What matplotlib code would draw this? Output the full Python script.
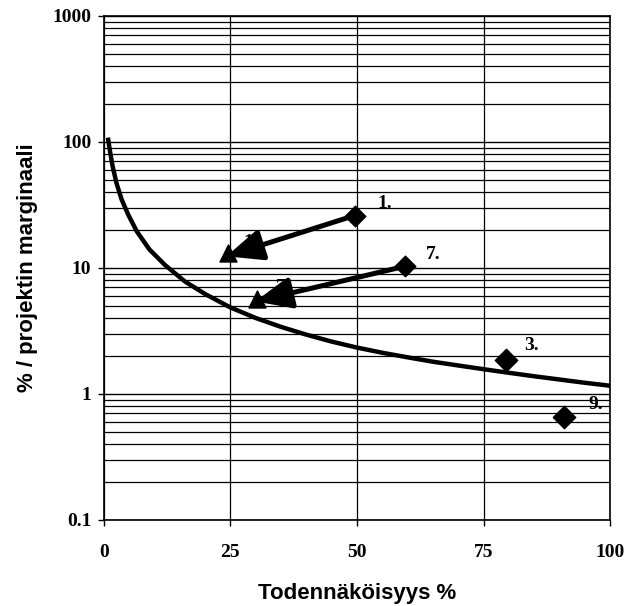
import numpy as np
import matplotlib.pyplot as plt
from matplotlib.ticker import FixedLocator, NullFormatter

# Break-even curve
curve_x = [0.8, 1.2, 1.7, 2.5, 3.5, 4.8, 6.5, 9, 12, 16, 20, 25, 30, 35, 40, 45, 50,
           55, 60, 65, 70, 75, 80, 85, 90, 95, 100]
curve_y = [108, 85, 65, 47, 35, 26.5, 19.5, 14, 10.6, 7.8, 6.2, 4.85, 4.0, 3.4, 2.95, 2.6, 2.33,
           2.12, 1.95, 1.8, 1.68, 1.57, 1.47, 1.38, 1.3, 1.225, 1.16]

# Projects: start (diamond) -> end (triangle)
moved_names = ["1", "7"]
moved_start_x = [49.5, 59.5]
moved_start_y = [26, 10.3]
moved_end_x = [24.5, 30.2]
moved_end_y = [13, 5.7]

# Projects that stay (diamonds only)
fixed_names = ["3", "9"]
fixed_x = [79.5, 90.8]
fixed_y = [1.85, 0.66]

x_ticks = [0, 25, 50, 75, 100]
y_ticks = [0.1, 1, 10, 100, 1000]
y_tick_labels = ["0.1", "1", "10", "100", "1000"]

fig = plt.figure(figsize=(6.37, 6.06), dpi=100)
ax = fig.add_axes([0.163, 0.142, 0.795, 0.832])

ax.set_yscale("log")
ax.set_xlim(0, 100)
ax.set_ylim(0.1, 1000)

# grid: every 1..9 per decade horizontally, every 25 vertically
minor = [m * 10.0 ** e for e in range(-1, 3) for m in range(2, 10)]
ax.yaxis.set_minor_locator(FixedLocator(minor))
ax.yaxis.set_minor_formatter(NullFormatter())
ax.set_yticks(y_ticks)
ax.set_yticklabels(y_tick_labels)
ax.set_xticks(x_ticks)
ax.grid(True, which="major", axis="y", color="black", lw=1.0)
ax.grid(True, which="minor", axis="y", color="black", lw=0.9)
ax.grid(True, which="major", axis="x", color="black", lw=0.9)
ax.tick_params(axis="y", which="minor", length=0)
ax.tick_params(axis="both", which="major", length=4, width=1, direction="out",
               labelsize=14, pad=5)
for lab in ax.get_xticklabels() + ax.get_yticklabels():
    lab.set_family("Liberation Serif")
    lab.set_fontweight("bold")
ax.tick_params(axis="x", pad=13)

for s in ax.spines.values():
    s.set_color("black")
    s.set_linewidth(1.2)

ax.plot(curve_x, curve_y, color="black", lw=3.2, solid_capstyle="butt",
        solid_joinstyle="round", zorder=3)

ax.scatter(moved_end_x, moved_end_y, marker="^", s=150, color="black", zorder=4)
for i in range(len(moved_names)):
    ax.annotate("", xy=(moved_end_x[i] - 0.3, moved_end_y[i] * 0.95),
                xytext=(moved_start_x[i], moved_start_y[i]),
                arrowprops=dict(arrowstyle="-|>,head_length=2.2,head_width=0.95",
                                mutation_scale=10, lw=3.6, color="black",
                                shrinkA=0, shrinkB=0),
                zorder=5)
ax.scatter(moved_start_x, moved_start_y, marker="D", s=110, color="black", zorder=5)
ax.scatter(fixed_x, fixed_y, marker="D", s=130, color="black", zorder=5)

txt = dict(family="Liberation Serif", fontweight="bold", fontsize=14)
ax.text(moved_start_x[0] + 4.5, moved_start_y[0] * 1.15, moved_names[0] + ".", zorder=6, **txt)
ax.text(moved_start_x[1] + 4.0, moved_start_y[1] * 1.15, moved_names[1] + ".", zorder=6, **txt)
ax.text(moved_end_x[0] + 3.0, moved_end_y[0] * 1.12, moved_names[0], zorder=3, **txt)
ax.text(moved_end_x[1] + 3.8, moved_end_y[1] * 1.12, moved_names[1], zorder=3, **txt)
ax.text(fixed_x[0] + 3.5, fixed_y[0] * 1.2, fixed_names[0] + ".", zorder=6, **txt)
ax.text(fixed_x[1] + 5.0, fixed_y[1] * 1.15, fixed_names[1] + ".", zorder=6, **txt)

ax.set_xlabel("Todennäköisyys %", family="Liberation Sans", fontweight="bold",
              fontsize=16, labelpad=16)
ax.set_ylabel("% / projektin marginaali", family="Liberation Sans", fontweight="bold",
              fontsize=16, labelpad=10)

fig.savefig("out.png", dpi=100)
